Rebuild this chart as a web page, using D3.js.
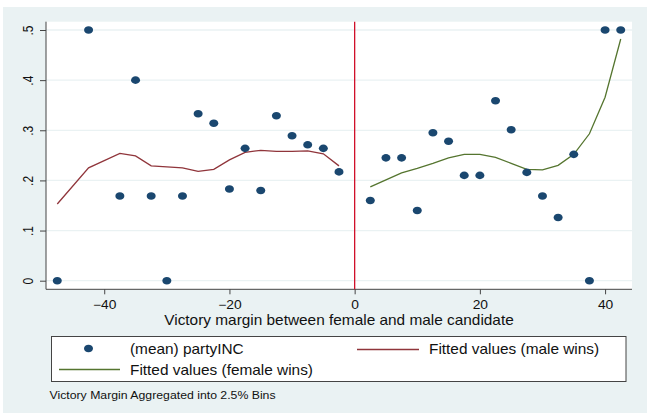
<!DOCTYPE html>
<html>
<head>
<meta charset="utf-8">
<script src="https://cdn.jsdelivr.net/npm/d3@7"></script>
<style>
  body { margin: 0; background: #fff; }
  svg { display: block; font-family: "Liberation Sans", Arial, sans-serif; }
</style>
</head>
<body>
<svg class="chart"></svg>
<script>
// binned means (2.5% bins) and the two fitted curves
let bins = [-47.5, -42.5, -37.5, -35, -32.5, -30, -27.5, -25, -22.5, -20, -17.5, -15, -12.5, -10, -7.5, -5, -2.5,
            2.5, 5, 7.5, 10, 12.5, 15, 17.5, 20, 22.5, 25, 27.5, 30, 32.5, 35, 37.5, 40, 42.5];
let means = [0, 0.5, 0.169, 0.4, 0.169, 0, 0.169, 0.333, 0.314, 0.183, 0.264, 0.18, 0.329, 0.289, 0.271, 0.264, 0.217,
             0.16, 0.245, 0.245, 0.14, 0.295, 0.278, 0.21, 0.21, 0.359, 0.301, 0.216, 0.169, 0.126, 0.252, 0, 0.5, 0.5];

let male_x = [-47.5, -42.5, -37.5, -35, -32.5, -30, -27.5, -25, -22.5, -20, -17.5, -15, -12.5, -10, -7.5, -5, -2.5];
let male_fit = [0.153, 0.225, 0.254, 0.249, 0.229, 0.227, 0.225, 0.218, 0.222, 0.241, 0.256, 0.26, 0.258, 0.258, 0.259, 0.253, 0.229];

let female_x = [2.5, 5, 7.5, 10, 12.5, 15, 17.5, 20, 22.5, 25, 27.5, 30, 32.5, 35, 37.5, 40, 42.5];
let female_fit = [0.187, 0.201, 0.215, 0.224, 0.234, 0.245, 0.252, 0.252, 0.246, 0.234, 0.222, 0.221, 0.23, 0.252, 0.293, 0.366, 0.482];

let x_ticks = [-40, -20, 0, 20, 40];
let y_ticks = [0, 0.1, 0.2, 0.3, 0.4, 0.5];
let y_tick_labels = ["0", ".1", ".2", ".3", ".4", ".5"];

let w = 647, h = 413;
let svg = d3.select("svg.chart").attr("width", w).attr("height", h);

let bg = "#eaf2f3";
let col_dot = "#1a476f", col_male = "#90353b", col_female = "#55752f";
let ink = "#111";

// the original picture is stretched a bit sideways, so text is widened to match
function add_text(parent, tx, ty, str, size, sx, anchor) {
    return parent.append("text")
        .attr("transform", "translate(" + tx + "," + ty + ") scale(" + sx + ",1)")
        .attr("text-anchor", anchor || "start")
        .style("font-size", size + "px")
        .attr("fill", ink)
        .text(str);
}

// outer background
svg.append("rect").attr("x", 3).attr("y", 7).attr("width", w - 3).attr("height", h - 7).attr("fill", bg);

let p_left = 46, p_right = 632, p_top = 21.7, p_bottom = 289.3;

let x = d3.scaleLinear().domain([-49.3, 44.3]).range([p_left, p_right]);
let y = d3.scaleLinear().domain([0, 0.5]).range([280.7, 30]);

// plot area
svg.append("rect").attr("x", p_left).attr("y", p_top)
    .attr("width", p_right - p_left).attr("height", p_bottom - p_top).attr("fill", "white");

// gridlines
svg.append("g").selectAll("line")
    .data(y_ticks)
    .enter().append("line")
    .attr("x1", p_left).attr("x2", p_right)
    .attr("y1", d => y(d)).attr("y2", d => y(d))
    .attr("stroke", bg).attr("stroke-width", 1.3);

// axes
let y_axis = svg.append("g")
    .attr("transform", "translate(" + p_left + ",0)")
    .call(d3.axisLeft(y).tickValues(y_ticks).tickSize(6)
        .tickFormat((d, i) => y_tick_labels[i]));
y_axis.select(".domain").attr("d", "M0," + p_top + "V" + p_bottom).attr("stroke", "#444");
y_axis.selectAll(".tick line").attr("stroke", "#444");
y_axis.selectAll(".tick text")
    .attr("x", 0).attr("y", 0).attr("dy", 0)
    .attr("transform", "translate(-13,0) scale(1.15,1) rotate(-90)")
    .style("text-anchor", "middle")
    .style("font-size", "12px")
    .attr("fill", ink);

let x_axis = svg.append("g")
    .attr("transform", "translate(0," + p_bottom + ")")
    .call(d3.axisBottom(x).tickValues(x_ticks).tickSize(5).tickFormat(d3.format("d")));
x_axis.select(".domain").attr("d", "M" + p_left + ",0H" + p_right).attr("stroke", "#444");
x_axis.selectAll(".tick line").attr("stroke", "#444");
x_axis.selectAll(".tick text")
    .attr("y", 0).attr("dy", 0)
    .attr("transform", "translate(0,20) scale(1.15,1)")
    .style("font-size", "12px")
    .attr("fill", ink);

// vertical line at zero
svg.append("line")
    .attr("x1", x(0)).attr("x2", x(0)).attr("y1", p_top).attr("y2", p_bottom)
    .attr("stroke", "#d0102a").attr("stroke-width", 1.3);

// fitted lines
let line = d3.line().x(d => x(d[0])).y(d => y(d[1]));
svg.append("path")
    .datum(d3.zip(male_x, male_fit))
    .attr("d", line).attr("fill", "none").attr("stroke", col_male).attr("stroke-width", 1.3);
svg.append("path")
    .datum(d3.zip(female_x, female_fit))
    .attr("d", line).attr("fill", "none").attr("stroke", col_female).attr("stroke-width", 1.3);

// binned means
svg.append("g").selectAll("ellipse")
    .data(d3.zip(bins, means))
    .enter().append("ellipse")
    .attr("cx", d => x(d[0])).attr("cy", d => y(d[1]))
    .attr("rx", 4.5).attr("ry", 3.8)
    .attr("fill", col_dot);

// x-axis title
add_text(svg, 339, 325, "Victory margin between female and male candidate", 14, 1.1, "middle");

// legend
let legend = svg.append("g");
legend.append("rect")
    .attr("x", 51.5).attr("y", 336.5).attr("width", 574.5).attr("height", 45)
    .attr("fill", "white").attr("stroke", "#444").attr("stroke-width", 1);
legend.append("ellipse").attr("cx", 88.5).attr("cy", 348.5).attr("rx", 4.5).attr("ry", 3.8).attr("fill", col_dot);
add_text(legend, 130, 354, "(mean) partyINC", 14, 1.1);
legend.append("line").attr("x1", 357).attr("x2", 419).attr("y1", 349.5).attr("y2", 349.5)
    .attr("stroke", col_male).attr("stroke-width", 1.3);
add_text(legend, 429, 354, "Fitted values (male wins)", 14, 1.1);
legend.append("line").attr("x1", 59).attr("x2", 120).attr("y1", 369.5).attr("y2", 369.5)
    .attr("stroke", col_female).attr("stroke-width", 1.3);
add_text(legend, 130, 375, "Fitted values (female wins)", 14, 1.1);

// note
add_text(svg, 49.5, 399, "Victory Margin Aggregated into 2.5% Bins", 10.5, 1.17);
</script>
</body>
</html>
